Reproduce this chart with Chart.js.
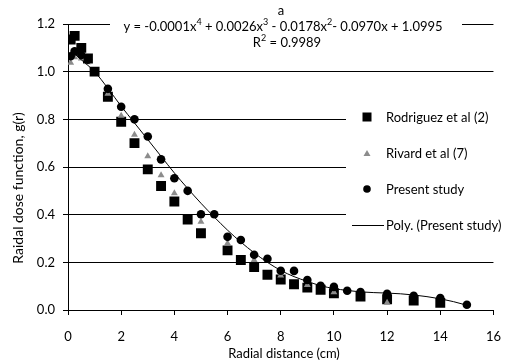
<!DOCTYPE html>
<html lang="en">
<head>
  <meta charset="UTF-8" />
  <title>Radial dose function</title>
  <style>
    html, body { margin: 0; padding: 0; background: #fff; }
    #wrap { width: 515px; height: 364px; }
  </style>
</head>
<body>
  <div id="wrap"><canvas id="doseChart" width="515" height="364"></canvas></div>

  <script src="https://cdn.jsdelivr.net/npm/chart.js"></script>
  <script>
    // data
    const xRod = [0.1, 0.25, 0.5, 0.75, 1, 1.5, 2, 2.5, 3, 3.5, 4, 4.5, 5, 6, 6.5, 7, 7.5, 8, 8.5, 9, 9.5, 10, 11, 12, 13, 14];
    const yRod = [1.135, 1.15, 1.10, 1.055, 1.0, 0.895, 0.79, 0.70, 0.59, 0.52, 0.455, 0.38, 0.322, 0.25, 0.21, 0.18, 0.148, 0.128, 0.108, 0.094, 0.085, 0.07, 0.056, 0.045, 0.04, 0.03];

    const xRiv = [0.1, 0.25, 0.5, 0.75, 1, 1.5, 2, 2.5, 3, 3.5, 4, 5, 6, 7, 8, 9, 10, 12];
    const yRiv = [1.037, 1.06, 1.055, 1.04, 1.0, 0.907, 0.815, 0.735, 0.645, 0.565, 0.49, 0.37, 0.28, 0.21, 0.145, 0.105, 0.075, 0.03];

    const xPres = [0.1, 0.25, 0.5, 0.75, 1, 1.5, 2, 2.5, 3, 3.5, 4, 4.5, 5, 5.5, 6, 6.5, 7, 7.5, 8, 8.5, 9, 9.5, 10, 10.5, 11, 12, 13, 14, 15];
    const yPres = [1.065, 1.085, 1.07, 1.05, 1.0, 0.928, 0.853, 0.80, 0.728, 0.632, 0.553, 0.50, 0.402, 0.402, 0.307, 0.294, 0.232, 0.215, 0.165, 0.164, 0.126, 0.102, 0.097, 0.081, 0.075, 0.068, 0.06, 0.05, 0.022];

    // polynomial trendline
    const xFit = [0.1, 0.5, 1, 1.5, 2, 2.5, 3, 3.5, 4, 4.5, 5, 5.5, 6, 6.5, 7, 7.5, 8, 8.5, 9, 9.5, 10, 10.5, 11, 11.5, 12, 12.5, 13, 13.5, 14, 14.5, 15];
    const yFit = [1.09, 1.05, 1.0, 0.93, 0.855, 0.785, 0.715, 0.645, 0.575, 0.51, 0.448, 0.39, 0.335, 0.285, 0.24, 0.2, 0.166, 0.14, 0.12, 0.102, 0.09, 0.082, 0.076, 0.073, 0.071, 0.068, 0.063, 0.056, 0.047, 0.035, 0.02];

    const xTicks = [0, 2, 4, 6, 8, 10, 12, 14, 16];
    const yTicks = [0.0, 0.2, 0.4, 0.6, 0.8, 1.0, 1.2];

    const FONT = 'Lato, "Open Sans", sans-serif';
    const GREY = '#8c8c8c';

    function pts(xs, ys) {
      return xs.map((x, i) => ({ x: x, y: ys[i] }));
    }

    // titles, trendline equation and legend drawn on top
    const overlay = {
      id: 'overlay',
      afterDraw(chart) {
        const ctx = chart.ctx;
        ctx.save();

        // white boxes behind equation and legend (they hide the gridlines)
        ctx.fillStyle = '#fff';
        ctx.fillRect(110, 14, 352, 38);
        ctx.fillRect(346, 96, 169, 150);

        ctx.fillStyle = '#000';
        ctx.textBaseline = 'middle';

        // "a" label
        ctx.font = '13px ' + FONT;
        ctx.textAlign = 'center';
        ctx.fillText('a', 281, 11);

        // equation with superscripts
        const runs = [
          ['y = -0.0001x', false], ['4', true], [' + 0.0026x', false], ['3', true],
          [' - 0.0178x', false], ['2', true], ['- 0.0970x + 1.0995', false]
        ];
        const big = '13px ' + FONT, small = '9px ' + FONT;
        let total = 0;
        runs.forEach(r => { ctx.font = r[1] ? small : big; total += ctx.measureText(r[0]).width; });
        let cx = 283 - total / 2;
        ctx.textAlign = 'left';
        runs.forEach(r => {
          ctx.font = r[1] ? small : big;
          ctx.fillText(r[0], cx, r[1] ? 22 : 27);
          cx += ctx.measureText(r[0]).width;
        });
        // R squared
        const r2 = [['R', false], ['2', true], [' = 0.9989', false]];
        total = 0;
        r2.forEach(r => { ctx.font = r[1] ? small : big; total += ctx.measureText(r[0]).width; });
        cx = 287 - total / 2;
        r2.forEach(r => {
          ctx.font = r[1] ? small : big;
          ctx.fillText(r[0], cx, r[1] ? 38 : 43);
          cx += ctx.measureText(r[0]).width;
        });

        // axis titles
        ctx.font = '13px ' + FONT;
        ctx.textAlign = 'center';
        ctx.fillText('Radial distance (cm)', 284, 354);
        ctx.save();
        ctx.translate(18, 188);
        ctx.rotate(-Math.PI / 2);
        ctx.font = '14px ' + FONT;
        ctx.fillText('Raidal dose function, g(r)', 0, 0);
        ctx.restore();

        // legend
        const lx = 367, tx = 386;
        ctx.textAlign = 'left';
        ctx.font = '13px ' + FONT;
        ctx.fillStyle = '#000';
        ctx.fillRect(lx - 4.5, 117 - 4.5, 9, 9);
        ctx.fillText('Rodriguez et al (2)', tx, 118);

        ctx.fillStyle = GREY;
        ctx.beginPath();
        ctx.moveTo(lx, 150);
        ctx.lineTo(lx + 3.5, 156);
        ctx.lineTo(lx - 3.5, 156);
        ctx.closePath();
        ctx.fill();
        ctx.fillStyle = '#000';
        ctx.fillText('Rivard et al (7)', tx, 154);

        ctx.beginPath();
        ctx.arc(lx, 189, 3.8, 0, Math.PI * 2);
        ctx.fill();
        ctx.fillText('Present study', tx, 190);

        ctx.strokeStyle = '#000';
        ctx.lineWidth = 1;
        ctx.beginPath();
        ctx.moveTo(352, 225.5);
        ctx.lineTo(384, 225.5);
        ctx.stroke();
        ctx.fillText('Poly. (Present study)', tx, 226);

        ctx.restore();
      }
    };

    const ctx = document.getElementById('doseChart').getContext('2d');
    new Chart(ctx, {
      type: 'scatter',
      data: {
        datasets: [
          {
            label: 'Poly. (Present study)',
            data: pts(xFit, yFit),
            showLine: true,
            borderColor: '#000',
            borderWidth: 1,
            pointRadius: 0,
            cubicInterpolationMode: 'monotone',
            order: 0
          },
          {
            label: 'Present study',
            data: pts(xPres, yPres),
            pointStyle: 'circle',
            pointRadius: 4.3,
            backgroundColor: '#000',
            borderColor: '#000',
            borderWidth: 0,
            order: 1
          },
          {
            label: 'Rivard et al (7)',
            data: pts(xRiv, yRiv),
            pointStyle: 'triangle',
            pointRadius: 4,
            backgroundColor: GREY,
            borderColor: GREY,
            borderWidth: 0,
            order: 2
          },
          {
            label: 'Rodriguez et al (2)',
            data: pts(xRod, yRod),
            pointStyle: 'rect',
            pointRadius: 7,
            backgroundColor: '#000',
            borderColor: '#000',
            borderWidth: 0,
            order: 3
          }
        ]
      },
      options: {
        responsive: false,
        animation: false,
        events: [],
        layout: { padding: { left: 0, right: 18, top: 24, bottom: 0 } },
        plugins: {
          legend: { display: false },
          tooltip: { enabled: false }
        },
        scales: {
          x: {
            type: 'linear',
            min: 0,
            max: 16,
            afterFit(scale) { scale.height = 54; },
            afterBuildTicks(scale) { scale.ticks = xTicks.map(v => ({ value: v })); },
            grid: { drawOnChartArea: false, drawTicks: true, tickLength: 5, color: '#000' },
            border: { display: true, color: '#000', width: 1 },
            ticks: {
              color: '#000',
              padding: 14,
              maxRotation: 0,
              font: { family: FONT, size: 13 }
            }
          },
          y: {
            type: 'linear',
            min: 0,
            max: 1.2,
            afterFit(scale) { scale.width = 68; },
            afterBuildTicks(scale) { scale.ticks = yTicks.map(v => ({ value: v })); },
            grid: { color: '#000', lineWidth: 1, tickLength: 5 },
            border: { display: true, color: '#000', width: 1 },
            ticks: {
              color: '#000',
              padding: 8,
              font: { family: FONT, size: 13 },
              callback: v => v.toFixed(1)
            }
          }
        }
      },
      plugins: [overlay]
    });
  </script>
</body>
</html>
